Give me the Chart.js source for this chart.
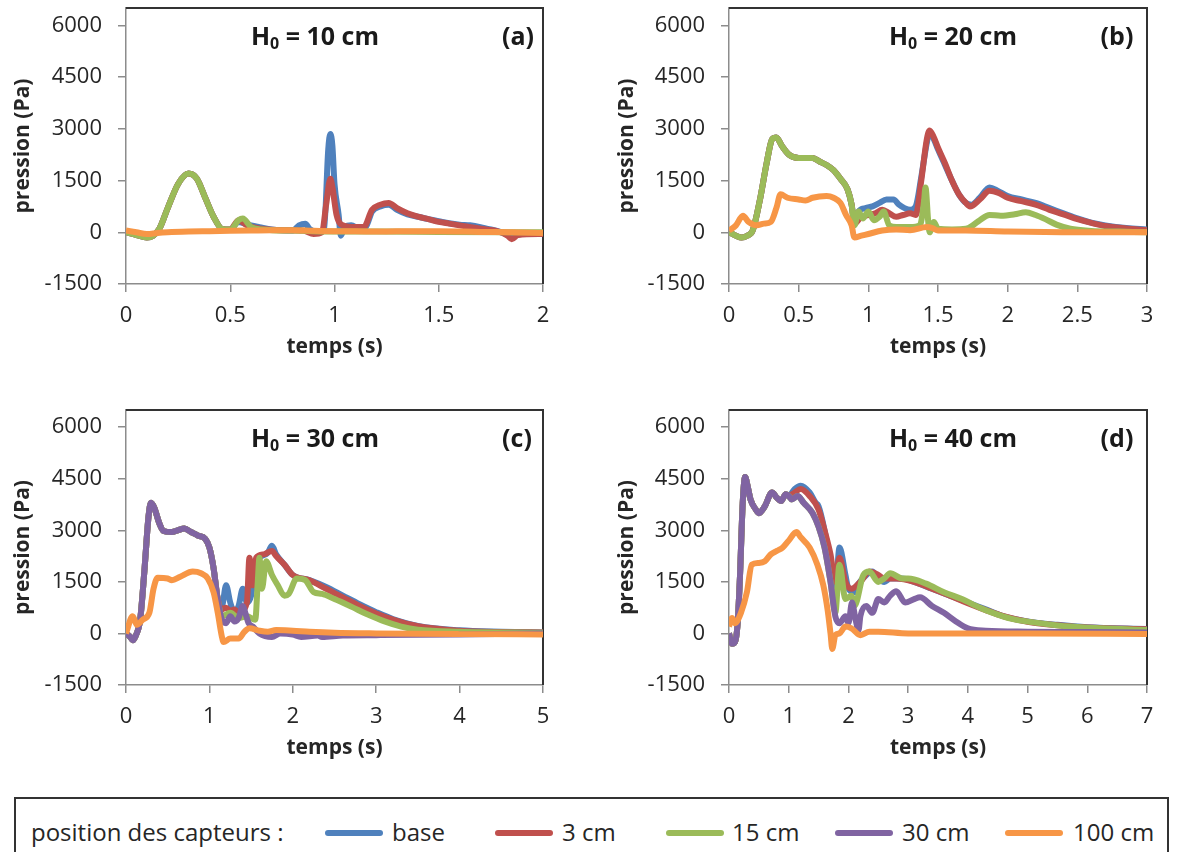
<!DOCTYPE html>
<html>
<head>
<meta charset="utf-8">
<script src="https://cdn.jsdelivr.net/npm/chart.js@4.4.1/dist/chart.umd.min.js"></script>
<style>
  body { margin: 0; background: #fff; width: 1177px; height: 852px; position: relative; overflow: hidden; font-family: "Open Sans", sans-serif; }
  canvas { position: absolute; }
  #legend { position: absolute; left: 14px; top: 797px; width: 1155px; height: 70px; border: 2px solid #333; box-sizing: border-box; color: #262626; font-size: 24px; }
  #legend span { position: absolute; top: 16px; line-height: 34px; white-space: nowrap; }
  #legend i { position: absolute; top: 31px; height: 6px; border-radius: 3px; }
</style>
</head>
<body>
<canvas id="chart-a" width="590" height="380" style="left:0;top:0"></canvas>
<canvas id="chart-b" width="587" height="380" style="left:590px;top:0"></canvas>
<canvas id="chart-c" width="590" height="380" style="left:0;top:400px"></canvas>
<canvas id="chart-d" width="587" height="380" style="left:590px;top:400px"></canvas>
<div id="legend"></div>
<script>
// sensor positions and colours
const sensors = ['base', '3 cm', '15 cm', '30 cm', '100 cm'];
const colors = ['#4F81BD', '#C0504D', '#9BBB59', '#8064A2', '#F79646'];
const yTicks = [-1500, 0, 1500, 3000, 4500, 6000];
const xTicksA = [0, 0.5, 1, 1.5, 2];
const xTicksB = [0, 0.5, 1, 1.5, 2, 2.5, 3];
const xTicksC = [0, 1, 2, 3, 4, 5];
const xTicksD = [0, 1, 2, 3, 4, 5, 6, 7];

// (a) H0 = 10 cm  -- [temps (s), pression (Pa)]
const a_early = [[0,0],[0.05,-80],[0.1,-150],[0.13,-100],[0.16,100],[0.2,700],[0.25,1400],[0.3,1700],[0.34,1550],[0.38,1000],[0.42,450],[0.46,100],[0.5,80]];
const a_base = a_early.concat([[0.54,300],[0.57,250],[0.6,200],[0.64,150],[0.7,80],[0.8,50],[0.83,200],[0.86,250],[0.88,100],[0.92,0],[0.95,100],[0.97,2400],[0.98,2850],[0.99,2500],[1.0,1400],[1.02,500],[1.03,-100],[1.05,150],[1.08,200],[1.12,100],[1.15,150],[1.18,600],[1.22,750],[1.26,800],[1.3,650],[1.35,520],[1.4,450],[1.45,380],[1.5,320],[1.55,260],[1.6,220],[1.65,200],[1.7,150],[1.75,80],[1.8,0],[1.85,-100],[1.9,-50],[2,-50]]);
const a_3 = a_early.concat([[0.54,350],[0.58,200],[0.65,100],[0.75,60],[0.85,50],[0.9,-50],[0.94,0],[0.96,800],[0.98,1550],[0.99,1300],[1.01,500],[1.04,200],[1.1,150],[1.14,150],[1.18,650],[1.22,800],[1.26,850],[1.3,700],[1.35,550],[1.4,450],[1.45,380],[1.5,300],[1.55,250],[1.6,200],[1.7,100],[1.78,30],[1.83,-100],[1.85,-200],[1.88,-80],[2,-50]]);
const a_15 = a_early.concat([[0.54,350],[0.56,400],[0.6,150],[0.65,80],[0.7,60],[0.8,50],[0.9,30],[1.0,20],[1.2,20],[1.5,10],[2,0]]);
const a_30 = [];
const a_100 = [[0,50],[0.05,0],[0.1,-50],[0.15,-20],[0.2,0],[0.3,20],[0.4,30],[0.5,40],[0.6,50],[0.7,60],[0.8,60],[0.9,40],[1.0,30],[1.1,30],[1.2,20],[1.3,30],[1.5,30],[1.7,10],[1.85,0],[2,-20]];

// (b) H0 = 20 cm
const b_early = [[0,0],[0.05,-100],[0.09,-150],[0.13,-100],[0.17,50],[0.22,900],[0.27,2000],[0.31,2700],[0.34,2750],[0.38,2500],[0.43,2250],[0.5,2150],[0.6,2150],[0.65,2050],[0.7,1950],[0.75,1800],[0.8,1550],[0.85,1250],[0.88,800]];
const b_base = b_early.concat([[0.9,300],[0.93,600],[0.98,700],[1.03,750],[1.08,850],[1.13,950],[1.18,950],[1.22,800],[1.26,700],[1.3,650],[1.34,750],[1.38,1600],[1.42,2600],[1.44,2900],[1.47,2700],[1.5,2400],[1.55,1950],[1.6,1500],[1.65,1100],[1.7,850],[1.74,800],[1.8,1000],[1.87,1300],[1.93,1200],[2.0,1050],[2.1,950],[2.2,850],[2.3,700],[2.4,550],[2.5,400],[2.6,280],[2.7,200],[2.85,120],[3,80]]);
const b_3 = b_early.concat([[0.9,250],[0.95,450],[1.0,500],[1.05,550],[1.1,650],[1.15,550],[1.2,450],[1.25,500],[1.3,550],[1.34,500],[1.38,1500],[1.42,2700],[1.44,2950],[1.47,2750],[1.5,2450],[1.55,2000],[1.6,1500],[1.65,1100],[1.7,850],[1.73,750],[1.8,950],[1.87,1200],[1.93,1150],[2.0,1000],[2.1,900],[2.2,800],[2.3,650],[2.4,520],[2.5,380],[2.6,270],[2.7,180],[2.85,110],[3,60]]);
const b_15 = b_early.concat([[0.9,200],[0.93,600],[0.96,400],[1.0,600],[1.04,350],[1.08,450],[1.11,600],[1.15,200],[1.2,150],[1.3,150],[1.37,200],[1.4,900],[1.41,1300],[1.43,300],[1.44,0],[1.47,300],[1.5,100],[1.6,80],[1.7,100],[1.75,200],[1.8,350],[1.87,500],[1.95,480],[2.05,520],[2.13,580],[2.2,500],[2.27,380],[2.35,220],[2.45,100],[2.6,40],[2.8,20],[3,0]]);
const b_30 = [];
const b_100 = [[0,50],[0.05,200],[0.1,480],[0.14,300],[0.2,200],[0.25,250],[0.3,300],[0.34,700],[0.37,1100],[0.42,1000],[0.5,950],[0.55,920],[0.6,1000],[0.7,1050],[0.75,1000],[0.8,850],[0.84,500],[0.88,200],[0.9,-150],[0.95,-100],[1.0,-50],[1.1,50],[1.2,80],[1.3,60],[1.42,150],[1.46,120],[1.5,50],[1.7,50],[2.0,20],[2.5,0],[3,0]];

// (c) H0 = 30 cm
const c_early = [[0,0],[0.05,-100],[0.08,-200],[0.12,-50],[0.17,400],[0.22,1800],[0.27,3400],[0.3,3800],[0.34,3650],[0.4,3200],[0.45,2980],[0.55,2950],[0.62,3000],[0.7,3050],[0.78,2950],[0.86,2850],[0.95,2750],[1.0,2500],[1.05,1900],[1.1,1000]];
const c_base = c_early.concat([[1.15,800],[1.2,1400],[1.25,900],[1.3,600],[1.35,800],[1.4,1300],[1.45,900],[1.5,1100],[1.55,2000],[1.6,2200],[1.7,2350],[1.75,2550],[1.8,2300],[1.9,2000],[2.0,1700],[2.2,1550],[2.4,1350],[2.6,1100],[2.8,850],[3.0,620],[3.2,420],[3.5,220],[4.0,90],[4.5,50],[5,30]]);
const c_3 = c_early.concat([[1.15,700],[1.2,750],[1.25,650],[1.3,700],[1.35,600],[1.45,900],[1.48,2200],[1.52,1400],[1.56,2200],[1.65,2300],[1.75,2400],[1.8,2250],[1.9,2000],[2.0,1700],[2.2,1550],[2.4,1300],[2.6,1050],[2.8,800],[3.0,580],[3.2,400],[3.5,210],[4.0,80],[4.5,40],[5,30]]);
const c_15 = c_early.concat([[1.15,500],[1.25,600],[1.35,450],[1.45,500],[1.55,400],[1.58,1500],[1.6,2200],[1.63,1300],[1.68,2100],[1.75,1700],[1.82,1400],[1.9,1100],[1.95,1150],[2.05,1600],[2.15,1550],[2.25,1200],[2.35,1150],[2.5,1000],[2.7,780],[2.9,550],[3.1,350],[3.3,200],[3.5,110],[4,50],[5,20]]);
const c_30 = c_early.concat([[1.15,400],[1.2,300],[1.25,500],[1.3,350],[1.35,450],[1.4,800],[1.43,600],[1.47,300],[1.52,200],[1.6,0],[1.75,-100],[1.85,0],[2.0,-30],[2.1,-100],[2.3,-60],[2.35,-100],[2.6,-60],[3.0,-50],[4.0,-30],[5,0]]);
const c_100 = [[0,0],[0.08,500],[0.13,250],[0.2,400],[0.28,600],[0.33,1300],[0.38,1620],[0.5,1600],[0.55,1550],[0.65,1650],[0.8,1800],[0.9,1750],[0.98,1600],[1.05,1200],[1.1,600],[1.15,-100],[1.17,-250],[1.25,-150],[1.35,-150],[1.42,50],[1.48,150],[1.6,80],[1.7,50],[1.8,100],[2.0,80],[2.2,50],[2.5,20],[3,0],[4,-20],[5,-30]];

// (d) H0 = 40 cm
const d_early = [[0,0],[0.05,-300],[0.1,-250],[0.14,200],[0.18,1500],[0.23,3800],[0.27,4550],[0.31,4300],[0.36,3900],[0.45,3600],[0.5,3500],[0.6,3700],[0.72,4100],[0.8,3950],[0.87,3850],[0.95,4050],[1.0,4000]];
const d_base = d_early.concat([[1.1,4200],[1.2,4300],[1.35,4100],[1.45,3800],[1.5,3700],[1.6,3000],[1.7,2000],[1.78,1200],[1.85,2500],[1.95,1700],[2.0,1300],[2.1,1200],[2.15,1400],[2.3,1700],[2.4,1800],[2.5,1600],[2.6,1500],[2.7,1600],[2.9,1600],[3.1,1500],[3.4,1300],[3.7,1100],[4.0,900],[4.3,700],[4.6,500],[5.0,350],[5.5,250],[6,180],[7,130]]);
const d_3 = d_early.concat([[1.1,4100],[1.2,4200],[1.35,4000],[1.5,3600],[1.6,3000],[1.7,2300],[1.78,1500],[1.85,2200],[1.95,1500],[2.05,1300],[2.2,1500],[2.35,1800],[2.5,1700],[2.6,1600],[2.8,1600],[3.1,1500],[3.4,1300],[3.7,1100],[4.0,880],[4.3,680],[4.6,500],[5.0,340],[5.5,240],[6,170],[7,120]]);
const d_15 = d_early.concat([[1.05,3900],[1.15,4000],[1.25,3800],[1.4,3500],[1.5,3100],[1.6,2500],[1.7,1500],[1.78,600],[1.85,2000],[1.95,1000],[2.05,1100],[2.1,800],[2.25,1700],[2.35,1800],[2.5,1500],[2.6,1600],[2.7,1750],[2.9,1600],[3.0,1600],[3.3,1450],[3.6,1200],[3.9,1000],[4.2,750],[4.5,550],[4.8,400],[5.2,300],[5.7,200],[6.2,150],[7,100]]);
const d_30 = d_early.concat([[1.05,3900],[1.15,4000],[1.25,3800],[1.4,3500],[1.5,3100],[1.6,2500],[1.7,1500],[1.78,500],[1.85,300],[1.95,500],[2.0,300],[2.06,900],[2.12,400],[2.17,100],[2.2,500],[2.3,800],[2.4,600],[2.5,1000],[2.6,900],[2.7,1100],[2.8,1230],[2.95,900],[3.1,1000],[3.2,1050],[3.4,800],[3.6,600],[3.8,350],[4.0,150],[4.3,80],[5,50],[6,40],[7,30]]);
const d_100 = [[0,200],[0.05,450],[0.1,300],[0.2,600],[0.3,1200],[0.38,2000],[0.5,2050],[0.6,2100],[0.7,2300],[0.8,2400],[0.9,2500],[1.0,2700],[1.13,2950],[1.2,2800],[1.35,2500],[1.48,2000],[1.58,1400],[1.65,700],[1.7,0],[1.73,-450],[1.78,-50],[1.85,0],[1.95,200],[2.05,150],[2.2,-50],[2.35,50],[2.5,50],[3,0],[4,0],[5,0],[7,-20]];

Chart.defaults.font.family = "'Open Sans', sans-serif";
Chart.defaults.color = '#262626';

// top and right border of the plot area
const frame = {
  id: 'frame',
  beforeDatasetsDraw(chart) {
    const {ctx, chartArea: c} = chart;
    ctx.save();
    ctx.strokeStyle = '#333';
    ctx.lineWidth = 2;
    ctx.beginPath();
    ctx.moveTo(c.left, c.top);
    ctx.lineTo(c.right, c.top);
    ctx.lineTo(c.right, c.bottom);
    ctx.stroke();
    ctx.restore();
  }
};

// "H0 = .. cm" and "(a)" inside the plot area
const labels = {
  id: 'labels',
  afterDatasetsDraw(chart, args, opts) {
    const {ctx, chartArea: c} = chart;
    const y = c.top + 30;
    ctx.save();
    ctx.fillStyle = '#1a1a1a';
    ctx.textBaseline = 'middle';
    ctx.font = "bold 25px 'Open Sans'";
    const rest = ' = ' + opts.h0 + ' cm';
    const wH = ctx.measureText('H').width;
    const wR = ctx.measureText(rest).width;
    ctx.font = "bold 16px 'Open Sans'";
    const w0 = ctx.measureText('0').width;
    let x = c.left + opts.hx - (wH + w0 + wR) / 2;
    ctx.font = "bold 25px 'Open Sans'";
    ctx.fillText('H', x, y);
    ctx.font = "bold 16px 'Open Sans'";
    ctx.fillText('0', x + wH, y + 6);
    ctx.font = "bold 25px 'Open Sans'";
    ctx.fillText(rest, x + wH + w0, y);
    ctx.textAlign = 'center';
    ctx.fillText(opts.tag, c.right - opts.tx, y);
    ctx.restore();
  }
};

function makePanel(id, p) {
  new Chart(document.getElementById(id), {
    type: 'line',
    data: {
      datasets: p.series.map((s, i) => ({
        label: sensors[i],
        data: s.map(v => ({x: v[0], y: v[1]})),
        borderColor: colors[i],
        backgroundColor: colors[i],
        borderWidth: 6,
        pointRadius: 0,
        cubicInterpolationMode: 'monotone',
        fill: false,
        order: 4 - i
      }))
    },
    options: {
      responsive: false,
      animation: false,
      events: [],
      layout: {padding: {left: 0, top: p.top, right: p.right, bottom: p.bottom}},
      plugins: {
        legend: {display: false},
        tooltip: {enabled: false},
        labels: {h0: p.h0, tag: p.tag, hx: p.hx, tx: p.tx}
      },
      scales: {
        x: {
          type: 'linear', min: 0, max: p.xTicks[p.xTicks.length - 1],
          afterBuildTicks: s => { s.ticks = p.xTicks.map(v => ({value: v})); },
          afterFit: s => { s.height = 76; s.paddingLeft = 0; s.paddingRight = 0; },
          ticks: {font: {size: 22}, padding: 11, maxRotation: 0, callback: v => String(v)},
          grid: {drawOnChartArea: false, tickLength: 8, color: '#8c8c8c', lineWidth: 1.5},
          border: {color: '#8c8c8c', width: 1.5},
          title: {display: true, text: 'temps (s)', font: {size: 21, weight: 'bold'}, padding: 0}
        },
        y: {
          min: -1500, max: 6500,
          afterBuildTicks: s => { s.ticks = yTicks.map(v => ({value: v})); },
          afterFit: s => { s.width = p.yw; s.paddingTop = 0; s.paddingBottom = 0; },
          ticks: {font: {size: 22}, padding: 16, callback: v => String(v)},
          grid: {drawOnChartArea: false, tickLength: 8, color: '#8c8c8c', lineWidth: 1.5},
          border: {color: '#8c8c8c', width: 1.5},
          title: {display: true, text: 'pression (Pa)', font: {size: 21, weight: 'bold'}, padding: {top: p.tp, bottom: 0}}
        }
      }
    },
    plugins: [frame, labels]
  });
}

makePanel('chart-a', {series: [a_base, a_3, a_15, a_30, a_100], xTicks: xTicksA, h0: 10, tag: '(a)',
  top: 8, right: 47, bottom: 20, yw: 126, tp: 10, hx: 189, tx: 25});
makePanel('chart-b', {series: [b_base, b_3, b_15, b_30, b_100], xTicks: xTicksB, h0: 20, tag: '(b)',
  top: 8, right: 30, bottom: 20, yw: 139, tp: 24, hx: 224, tx: 30});
makePanel('chart-c', {series: [c_base, c_3, c_15, c_30, c_100], xTicks: xTicksC, h0: 30, tag: '(c)',
  top: 10, right: 47, bottom: 19, yw: 126, tp: 10, hx: 189, tx: 26});
makePanel('chart-d', {series: [d_base, d_3, d_15, d_30, d_100], xTicks: xTicksD, h0: 40, tag: '(d)',
  top: 10, right: 30, bottom: 19, yw: 139, tp: 24, hx: 224, tx: 30});

// legend strip
const legendPos = [[309, 376], [479, 546], [650, 716], [819, 886], [989, 1057]];
const legend = document.getElementById('legend');
legend.innerHTML = '<span style="left:15px">position des capteurs :</span>' +
  sensors.map((s, i) =>
    `<i style="left:${legendPos[i][0]}px;width:58px;background:${colors[i]}"></i>` +
    `<span style="left:${legendPos[i][1]}px">${s}</span>`).join('');
</script>
</body>
</html>
